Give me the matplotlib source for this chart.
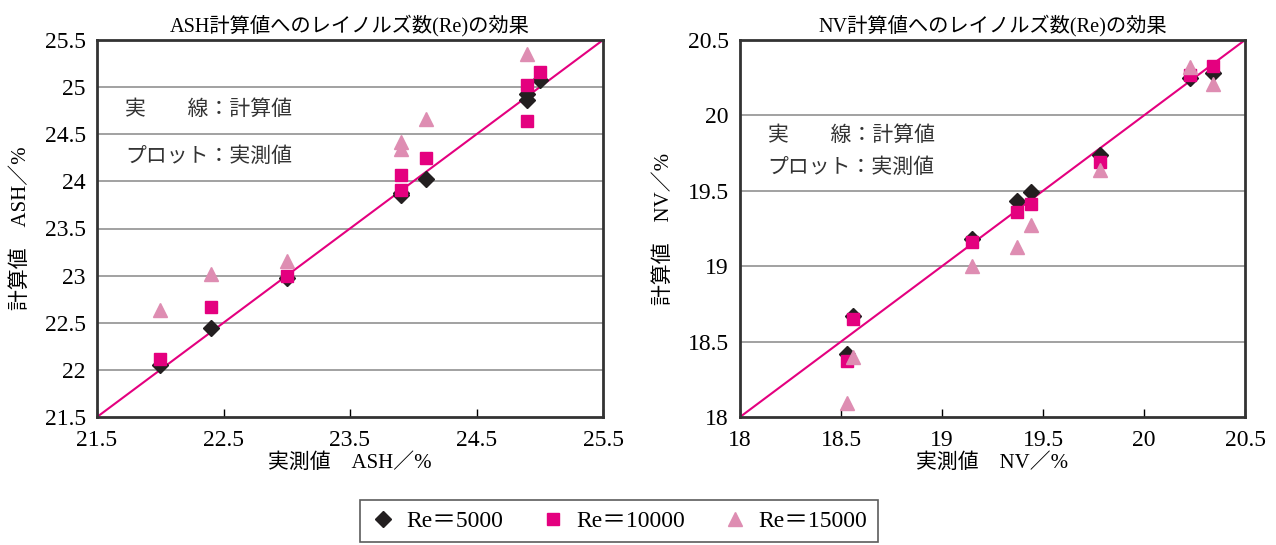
import matplotlib
matplotlib.use("Agg")
import matplotlib.pyplot as plt
from matplotlib.lines import Line2D

plt.rcParams['font.family'] = ['Liberation Serif', 'Noto Sans CJK JP']

# ASH (left panel): measured x, calculated y for each Re
ash_x5 = [22.0, 22.4, 23.0, 23.9, 23.9, 24.1, 24.9, 24.9, 25.0]
ash_y5 = [22.05, 22.44, 22.98, 23.86, 23.88, 24.02, 24.86, 24.93, 25.08]
ash_x10 = [22.0, 22.4, 23.0, 23.9, 23.9, 24.1, 24.9, 24.9, 25.0]
ash_y10 = [22.12, 22.67, 23.0, 23.91, 24.07, 24.25, 24.64, 25.02, 25.16]
ash_x15 = [22.0, 22.4, 23.0, 23.9, 23.9, 24.1, 24.9]
ash_y15 = [22.64, 23.02, 23.16, 24.34, 24.42, 24.66, 25.35]

# NV (right panel)
nv_x5 = [18.53, 18.56, 19.15, 19.37, 19.44, 19.78, 20.23, 20.34]
nv_y5 = [18.42, 18.67, 19.18, 19.43, 19.49, 19.74, 20.25, 20.28]
nv_x10 = [18.53, 18.56, 19.15, 19.37, 19.44, 19.78, 20.23, 20.34]
nv_y10 = [18.37, 18.65, 19.16, 19.36, 19.41, 19.69, 20.27, 20.33]
nv_x15 = [18.53, 18.56, 19.15, 19.37, 19.44, 19.78, 20.23, 20.34]
nv_y15 = [18.09, 18.40, 19.00, 19.13, 19.27, 19.64, 20.32, 20.21]

re_labels = ["Re＝5000", "Re＝10000", "Re＝15000"]
c_black = "#231f20"
c_mag = "#e4007f"
c_pink = "#de8db2"

fig = plt.figure(figsize=(12.76, 5.45), dpi=100)
ax1 = fig.add_axes([97/1276, 1 - 417/545, 506/1276, 377/545])
ax2 = fig.add_axes([740/1276, 1 - 417/545, 505/1276, 377/545])


def draw_panel(ax, lo, hi, xs, ys, xticks, yticks, title, xlabel, ylabel, note_y):
    for y in yticks[1:-1]:
        ax.axhline(y, color="#9a9a9a", lw=1.3, zorder=1)
    ax.plot([lo, hi], [lo, hi], color=c_mag, lw=1.5, zorder=2)
    ax.plot(xs[0], ys[0], "D", color=c_black, ms=8, ls="none", zorder=3)
    ax.plot(xs[1], ys[1], "s", color=c_mag, ms=9, ls="none", zorder=4)
    ax.plot(xs[2], ys[2], "^", color=c_pink, ms=10, ls="none", zorder=5)
    ax.set_xlim(lo, hi)
    ax.set_ylim(lo, hi)
    ax.set_xticks(xticks)
    ax.set_xticklabels([f"{t:g}" for t in xticks])
    ax.set_yticks(yticks)
    ax.set_yticklabels([f"{t:g}" for t in yticks])
    ax.tick_params(axis="x", direction="in", length=6, width=1, labelsize=17, pad=9)
    ax.tick_params(axis="y", length=0, labelsize=17, pad=8)
    for s in ax.spines.values():
        s.set_linewidth(2)
        s.set_color("#333333")
    ax.set_title(title, fontsize=14.6, pad=6)
    ax.set_xlabel(xlabel, fontsize=15, labelpad=2)
    ax.set_ylabel(ylabel, fontsize=15, labelpad=10)
    ax.text(0.055, note_y[0], "実　　線：計算値", transform=ax.transAxes, fontsize=15, va="center", color="#333333")
    ax.text(0.055, note_y[1], "プロット：実測値", transform=ax.transAxes, fontsize=15, va="center", color="#333333")


draw_panel(ax1, 21.5, 25.5, [ash_x5, ash_x10, ash_x15], [ash_y5, ash_y10, ash_y15],
           [21.5, 22.5, 23.5, 24.5, 25.5], [21.5, 22, 22.5, 23, 23.5, 24, 24.5, 25, 25.5],
           "ASH計算値へのレイノルズ数(Re)の効果", "実測値　ASH／%", "計算値　ASH／%",
           (0.815, 0.69))
draw_panel(ax2, 18, 20.5, [nv_x5, nv_x10, nv_x15], [nv_y5, nv_y10, nv_y15],
           [18, 18.5, 19, 19.5, 20, 20.5], [18, 18.5, 19, 19.5, 20, 20.5],
           "NV計算値へのレイノルズ数(Re)の効果", "実測値　NV／%", "計算値　NV／%",
           (0.745, 0.66))

handles = [Line2D([], [], marker="D", color=c_black, ms=8, ls="none"),
           Line2D([], [], marker="s", color=c_mag, ms=9, ls="none"),
           Line2D([], [], marker="^", color=c_pink, ms=10, ls="none")]
leg = fig.legend(handles, re_labels, loc="center", bbox_to_anchor=(619/1276, 1 - 521/545),
                 ncol=3, fontsize=17, frameon=True, fancybox=False, edgecolor="#333333",
                 handlelength=1.0, handletextpad=0.5, columnspacing=1.6, borderpad=0.45)
leg.get_frame().set_linewidth(1.2)

fig.savefig("out.png", dpi=100)
